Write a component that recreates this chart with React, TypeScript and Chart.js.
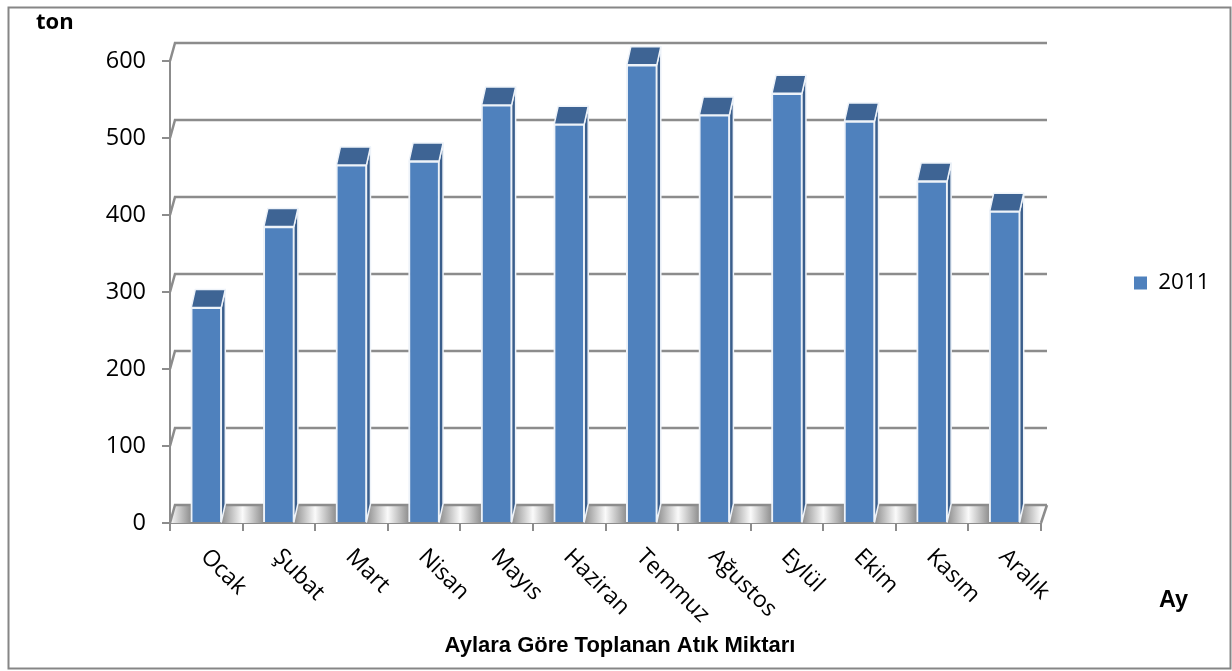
import React, { useEffect, useRef } from "react";
import { Chart, registerables } from "chart.js";

Chart.register(...registerables);

const months = ["Ocak", "Şubat", "Mart", "Nisan", "Mayıs", "Haziran", "Temmuz", "Ağustos", "Eylül", "Ekim", "Kasım", "Aralık"];
const values2011 = [280, 385, 465, 470, 543, 518, 595, 530, 558, 522, 444, 405];
const seriesName = "2011";
const chartTitle = "Aylara Göre Toplanan Atık Miktarı";
const yUnit = "ton";
const xUnit = "Ay";

const DEPTH_X = 5;
const BAR_DEPTH_X = 4;
const DEPTH_Y = 18;
const GRID = "#8c8c8c";
const BLUE = "#4f81bd";
const BLUE_TOP = "#3e6494";
const BLUE_SIDE = "#3a5e8c";
const EDGE = "#eef3f9";
const SANS = "'Open Sans', sans-serif";
const BOLD = "'Liberation Sans', Arial, sans-serif";

const depthPlugin = {
  id: "depth",
  afterLayout(chart: any) {
    const l = chart.legend;
    if (l) {
      const w = l.width, h = l.height;
      l.left = 1124; l.right = 1124 + w;
      l.top = 283 - h / 2; l.bottom = l.top + h;
    }
    const t = chart.titleBlock;
    if (t) {
      t.left = 8; t.right = 1232;
    }
  },
  beforeDraw(chart: any) {
    const c = chart.ctx;
    c.save();
    c.strokeStyle = "#868686";
    c.lineWidth = 2;
    c.strokeRect(8.5, 7.5, 1222, 661);
    c.restore();
  },
  beforeDatasetsDraw(chart: any) {
    const c = chart.ctx;
    const y = chart.scales.y;
    const { left, right } = chart.chartArea;
    const b = y.getPixelForValue(0);
    c.save();
    // floor
    const g = c.createLinearGradient(left, 0, right, 0);
    const n = months.length;
    for (let i = 0; i < n; i++) {
      g.addColorStop(i / n, "#fafafa");
      g.addColorStop((i + 0.3) / n, "#8a8a8a");
      g.addColorStop((i + 0.7) / n, "#8a8a8a");
    }
    g.addColorStop(1, "#fafafa");
    c.fillStyle = g;
    c.beginPath();
    c.moveTo(left, b);
    c.lineTo(left + DEPTH_X, b - DEPTH_Y);
    c.lineTo(right + DEPTH_X + 1, b - DEPTH_Y);
    c.lineTo(right, b);
    c.closePath();
    c.fill();
    // walls
    c.strokeStyle = GRID;
    c.lineWidth = 2.5;
    c.beginPath();
    c.moveTo(right, b);
    c.lineTo(right + DEPTH_X + 1, b - DEPTH_Y);
    for (const t of y.ticks) {
      const p = y.getPixelForValue(t.value);
      c.moveTo(left, p);
      c.lineTo(left + DEPTH_X, p - DEPTH_Y);
      c.lineTo(right + DEPTH_X + 1, p - DEPTH_Y);
    }
    c.stroke();
    c.restore();
  },
  afterDatasetsDraw(chart: any) {
    const c = chart.ctx;
    const meta = chart.getDatasetMeta(0);
    c.save();
    c.lineWidth = 1.5;
    c.strokeStyle = EDGE;
    c.lineJoin = "round";
    for (const bar of meta.data) {
      const { x, y, width, base } = bar.getProps(["x", "y", "width", "base"], true);
      const l = x - width / 2 + 0.5;
      const r = x + width / 2 - 0.5;
      c.fillStyle = BLUE_SIDE;
      c.beginPath();
      c.moveTo(r, y);
      c.lineTo(r + BAR_DEPTH_X, y - DEPTH_Y);
      c.lineTo(r + BAR_DEPTH_X, base - DEPTH_Y);
      c.lineTo(r, base);
      c.closePath();
      c.fill();
      c.stroke();
      c.fillStyle = BLUE_TOP;
      c.beginPath();
      c.moveTo(l, y);
      c.lineTo(l + BAR_DEPTH_X, y - DEPTH_Y);
      c.lineTo(r + BAR_DEPTH_X, y - DEPTH_Y);
      c.lineTo(r, y);
      c.closePath();
      c.fill();
      c.stroke();
    }
    c.restore();
  },
  afterDraw(chart: any) {
    const c = chart.ctx;
    const x = chart.scales.x;
    c.save();
    c.fillStyle = "#000";
    c.font = "23px " + SANS;
    c.textAlign = "left";
    c.textBaseline = "middle";
    months.forEach((m, i) => {
      c.save();
      c.translate(x.getPixelForValue(i) - 2, 553);
      c.rotate(Math.PI / 4);
      c.fillText(m, 0, 0);
      c.restore();
    });
    c.font = "bold 22px " + SANS;
    c.fillText(yUnit, 36, 23);
    c.font = "bold 23.5px " + BOLD;
    c.fillText(xUnit, 1159, 601);
    c.restore();
  },
};

export default function App() {
  const ref = useRef<HTMLCanvasElement>(null);
  useEffect(() => {
    document.body.style.margin = "0";
    const chart = new Chart(ref.current as HTMLCanvasElement, {
      type: "bar",
      data: {
        labels: months,
        datasets: [{
          label: seriesName,
          data: values2011,
          backgroundColor: BLUE,
          borderColor: EDGE,
          borderWidth: 2,
          barThickness: 31,
        }],
      },
      plugins: [depthPlugin],
      options: {
        responsive: false,
        animation: false,
        layout: { padding: { left: 8, top: 61, right: 191, bottom: 0 } },
        plugins: {
          tooltip: { enabled: false },
          title: {
            display: true,
            text: chartTitle,
            position: "bottom",
            color: "#000",
            font: { family: BOLD, size: 22, weight: "bold" },
            padding: { top: 0, bottom: 12 },
          },
          legend: {
            display: true,
            position: "chartArea",
            labels: {
              boxWidth: 13,
              boxHeight: 13,
              color: "#000",
              font: { family: SANS, size: 22.5 },
              generateLabels: (chart: any) =>
                Chart.defaults.plugins.legend.labels.generateLabels(chart).map((it: any) => ({ ...it, lineWidth: 0 })),
            },
          },
        },
        scales: {
          x: {
            afterFit: (s: any) => { s.height = 671 - 523 - (22 * 1.2 + 12); },
            grid: { drawOnChartArea: false, color: GRID, lineWidth: 2, tickLength: 8 },
            border: { color: GRID, width: 2 },
            ticks: { display: false, autoSkip: false },
          },
          y: {
            min: 0,
            max: 600,
            afterFit: (s: any) => { s.width = 162; },
            grid: { drawOnChartArea: false, color: GRID, lineWidth: 2, tickLength: 8 },
            border: { color: GRID, width: 2 },
            ticks: { stepSize: 100, padding: 16, color: "#000", font: { family: SANS, size: 23.5 } },
          },
        },
      },
    } as any);
    return () => chart.destroy();
  }, []);
  return (
    <div style={{ position: "absolute", left: 0, top: 0, width: 1232, height: 671 }}>
      <canvas ref={ref} width={1232} height={671} style={{ display: "block" }} />
    </div>
  );
}
